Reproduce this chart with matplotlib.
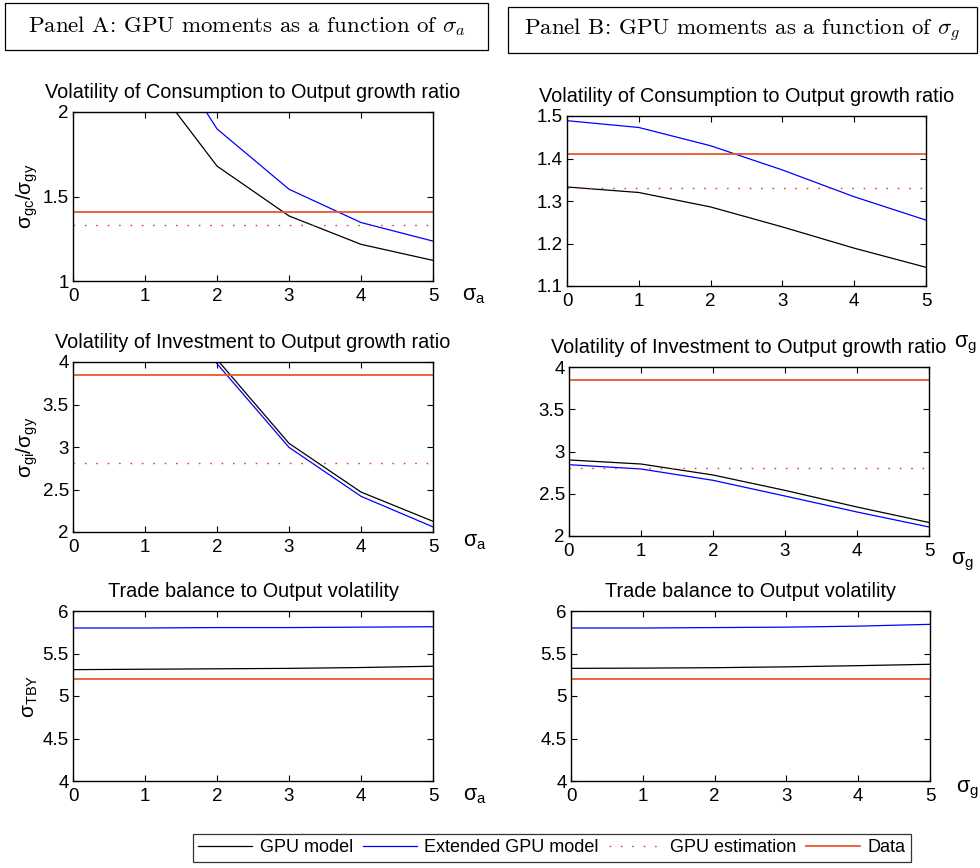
import matplotlib
matplotlib.use("Agg")
import matplotlib.pyplot as plt
from matplotlib.lines import Line2D
from matplotlib.patches import Rectangle
import numpy as np

plt.rcParams['font.family'] = ['Liberation Sans', 'DejaVu Sans']
plt.rcParams['mathtext.fontset'] = 'custom'
plt.rcParams['mathtext.rm'] = 'Liberation Sans'
plt.rcParams['mathtext.it'] = 'Liberation Sans:italic'
plt.rcParams['mathtext.bf'] = 'Liberation Sans:bold'

# ---------------- data ----------------
x = [0, 1, 2, 3, 4, 5]

# Panel A (function of sigma_a)
a_cons_gpu = [2.80, 2.24, 1.68, 1.385, 1.217, 1.122]
a_cons_ext = [3.25, 2.57, 1.90, 1.543, 1.346, 1.236]
a_inv_gpu = [6.60, 5.20, 4.03, 3.043, 2.470, 2.126]
a_inv_ext = [6.50, 5.10, 3.98, 2.996, 2.420, 2.060]
a_tby_gpu = [5.31, 5.315, 5.32, 5.325, 5.335, 5.35]
a_tby_ext = [5.80, 5.80, 5.805, 5.805, 5.81, 5.815]

# Panel B (function of sigma_g)
b_cons_gpu = [1.333, 1.320, 1.286, 1.239, 1.189, 1.144]
b_cons_ext = [1.489, 1.473, 1.430, 1.373, 1.310, 1.255]
b_inv_gpu = [2.90, 2.852, 2.722, 2.540, 2.343, 2.160]
b_inv_ext = [2.844, 2.793, 2.659, 2.473, 2.284, 2.107]
b_tby_gpu = [5.325, 5.328, 5.333, 5.343, 5.357, 5.373]
b_tby_ext = [5.80, 5.80, 5.805, 5.81, 5.822, 5.843]

# Data and estimation targets
data_cons, est_cons = 1.41, 1.33
data_inv, est_inv = 3.85, 2.81
data_tby = 5.2

titles = ["Volatility of Consumption to Output growth ratio",
          "Volatility of Investment to Output growth ratio",
          "Trade balance to Output volatility"]
ylabels = [r"$\mathregular{\sigma_{gc}/\sigma_{gy}}$",
           r"$\mathregular{\sigma_{gi}/\sigma_{gy}}$",
           r"$\mathregular{\sigma_{TBY}}$"]
legend_labels = ["GPU model", "Extended GPU model", "GPU estimation", "Data"]
panel_headers = [r"Panel A: GPU moments as a function of $\sigma_a$",
                 r"Panel B: GPU moments as a function of $\sigma_g$"]

# ---------------- figure ----------------
W, H = 980, 868
fig = plt.figure(figsize=(W / 100, H / 100), dpi=100)

C_GPU = 'black'
C_EXT = '#0000ff'
C_EST = '#e8402a'
C_DATA = '#e8582f'
EST_LS = (0, (1.2, 7))


def px_axes(left, top, right, bottom):
    return fig.add_axes([left / W, 1 - bottom / H, (right - left) / W, (bottom - top) / H])


def style(ax, ylim, yticks, ytl):
    ax.set_xlim(0, 5)
    ax.set_ylim(*ylim)
    ax.set_xticks(x)
    ax.set_yticks(yticks)
    ax.set_yticklabels(ytl)
    ax.tick_params(direction='in', top=True, right=True, labelsize=13.5, length=4, width=0.8)
    ax.tick_params(axis='x', pad=5)
    ax.tick_params(axis='y', pad=3)
    for s in ax.spines.values():
        s.set_linewidth(1.0)


def draw(ax, gpu, ext, data, est):
    ax.plot(x, gpu, color=C_GPU, lw=0.9)
    ax.plot(x, ext, color=C_EXT, lw=0.9)
    if est is not None:
        ax.axhline(est, color=C_EST, lw=1.0, linestyle=EST_LS)
    ax.axhline(data, color=C_DATA, lw=1.3)


rects_left = [(73, 112, 433, 281), (73, 362, 433, 532), (73, 611, 433, 781)]
rects_right = [(567, 116, 926, 286), (569, 367, 929, 536), (571, 611, 930, 781)]

left_series = [(a_cons_gpu, a_cons_ext, data_cons, est_cons),
               (a_inv_gpu, a_inv_ext, data_inv, est_inv),
               (a_tby_gpu, a_tby_ext, data_tby, None)]
right_series = [(b_cons_gpu, b_cons_ext, data_cons, est_cons),
                (b_inv_gpu, b_inv_ext, data_inv, est_inv),
                (b_tby_gpu, b_tby_ext, data_tby, None)]

left_lims = [((1, 2), [1, 1.5, 2], ["1", "1.5", "2"]),
             ((2, 4), [2, 2.5, 3, 3.5, 4], ["2", "2.5", "3", "3.5", "4"]),
             ((4, 6), [4, 4.5, 5, 5.5, 6], ["4", "4.5", "5", "5.5", "6"])]
right_lims = [((1.1, 1.5), [1.1, 1.2, 1.3, 1.4, 1.5], ["1.1", "1.2", "1.3", "1.4", "1.5"]),
              ((2, 4), [2, 2.5, 3, 3.5, 4], ["2", "2.5", "3", "3.5", "4"]),
              ((4, 6), [4, 4.5, 5, 5.5, 6], ["4", "4.5", "5", "5.5", "6"])]

for i in range(3):
    axl = px_axes(*rects_left[i])
    draw(axl, *left_series[i])
    style(axl, *left_lims[i])
    axl.set_title(titles[i], fontsize=14.3, pad=10)
    axl.set_ylabel(ylabels[i], fontsize=15, labelpad=2)

    axr = px_axes(*rects_right[i])
    draw(axr, *right_series[i])
    style(axr, *right_lims[i])
    axr.set_title(titles[i], fontsize=14.3, pad=10)

# x labels placed as in the reference
xlab_a = r"$\mathregular{\sigma_a}$"
xlab_g = r"$\mathregular{\sigma_g}$"
for (px, py, s) in [(474, 295, xlab_a), (475, 542, xlab_a), (475, 795, xlab_a),
                    (965, 345, xlab_g), (962, 562, xlab_g), (967, 790, xlab_g)]:
    fig.text(px / W, 1 - py / H, s, fontsize=15.5, ha='center', va='center')

# panel headers with boxes
for (l, t, r, b), txt in zip([(5, 3, 488, 50), (508, 7, 977, 53)], panel_headers):
    fig.patches.append(Rectangle((l / W, 1 - b / H), (r - l) / W, (b - t) / H,
                                 transform=fig.transFigure, fill=False, ec='black', lw=0.9))
    fig.text((l + r) / 2 / W, 1 - (t + b) / 2 / H, txt, fontsize=16.5, family='cmr10',
             math_fontfamily='cm', ha='center', va='center')

# legend
handles = [Line2D([], [], color=C_GPU, lw=0.9),
           Line2D([], [], color=C_EXT, lw=0.9),
           Line2D([], [], color=C_EST, lw=1.0, linestyle=EST_LS),
           Line2D([], [], color=C_DATA, lw=1.3)]
leg = fig.legend(handles, legend_labels, loc='center', bbox_to_anchor=(552 / W, 1 - 848 / H),
                 ncol=4, fontsize=13.0, frameon=True, fancybox=False, edgecolor='black',
                 handlelength=3.0, handletextpad=0.4, columnspacing=0.55, borderpad=0.3,
                 borderaxespad=0)
leg.get_frame().set_linewidth(0.9)

fig.savefig("out.png", dpi=100)
